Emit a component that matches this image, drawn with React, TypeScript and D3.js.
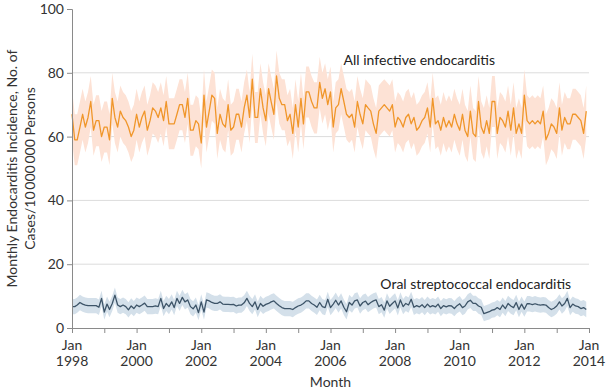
import React, { useEffect, useRef } from 'react'
import * as d3 from 'd3'

// Monthly incidence per 10 000 000 persons, Jan 1998 – Dec 2013 (one row per year)
const allEndocarditis = [
  67, 59, 59, 63, 67, 63, 66, 71, 62, 65, 65, 60,
  63, 63, 59, 72, 66, 63, 68, 66, 65, 63, 60, 62,
  67, 63, 66, 68, 62, 65, 69, 68, 66, 69, 65, 71,
  64, 64, 64, 67, 70, 70, 66, 72, 62, 62, 65, 64,
  58, 73, 63, 68, 73, 72, 61, 67, 64, 63, 70, 62,
  63, 67, 67, 63, 69, 73, 66, 78, 66, 66, 75, 69,
  65, 75, 71, 67, 79, 72, 70, 70, 65, 67, 61, 70,
  63, 72, 64, 74, 74, 71, 69, 69, 77, 72, 75, 70,
  74, 63, 69, 70, 75, 71, 67, 66, 67, 63, 71, 67,
  64, 70, 69, 68, 64, 61, 68, 69, 70, 69, 68, 70,
  63, 66, 65, 63, 66, 67, 64, 66, 62, 63, 65, 66,
  69, 63, 72, 64, 65, 62, 66, 63, 65, 63, 67, 64,
  62, 67, 62, 60, 68, 61, 60, 71, 63, 61, 65, 61,
  71, 71, 61, 66, 65, 63, 68, 62, 69, 61, 64, 61,
  73, 65, 64, 65, 64, 65, 64, 68, 59, 61, 64, 63,
  61, 69, 62, 66, 64, 64, 67, 67, 66, 65, 61, 68,
]

const oralStrep = [
  6.7, 6.7, 7.2, 8.0, 7.5, 7.2, 7.0, 7.0, 7.0, 7.0, 6.5, 9.3,
  5.0, 7.5, 5.8, 7.7, 10.3, 7.2, 6.7, 7.2, 6.7, 5.7, 6.9, 6.1,
  7.2, 6.7, 7.2, 7.8, 6.7, 6.7, 6.7, 6.9, 6.7, 9.3, 6.1, 7.7,
  6.7, 8.2, 6.4, 9.3, 7.7, 9.6, 8.2, 8.8, 6.7, 6.0, 7.2, 4.8,
  8.2, 5.0, 8.8, 8.5, 8.0, 7.7, 7.7, 8.2, 7.5, 7.4, 7.4, 7.3,
  7.4, 6.9, 7.2, 7.2, 7.9, 9.3, 7.7, 6.7, 8.2, 5.8, 7.7, 6.8,
  7.4, 7.7, 8.2, 8.5, 7.7, 7.0, 6.4, 6.1, 6.1, 6.1, 5.8, 6.4,
  6.9, 7.2, 7.7, 8.5, 8.5, 7.7, 7.2, 6.5, 8.0, 6.7, 6.4, 9.0,
  6.4, 7.5, 8.7, 7.2, 8.5, 6.5, 5.1, 8.0, 7.2, 8.5, 8.8, 6.9,
  8.0, 8.4, 7.3, 8.0, 8.5, 8.8, 6.7, 7.3, 5.6, 8.5, 6.8, 7.7,
  8.5, 6.3, 8.8, 6.7, 7.7, 7.2, 9.0, 6.5, 7.0, 6.6, 7.3, 6.4,
  7.5, 6.6, 7.0, 6.6, 7.5, 6.1, 7.0, 6.6, 7.0, 6.9, 6.1, 7.0,
  7.6, 6.4, 6.9, 8.2, 8.7, 7.7, 7.7, 6.9, 6.5, 4.5, 4.8, 5.1,
  5.6, 5.8, 6.4, 5.8, 7.2, 6.1, 7.7, 6.9, 6.4, 8.0, 5.8, 7.5,
  5.9, 7.6, 7.6, 7.3, 7.6, 7.3, 7.2, 7.3, 7.2, 6.4, 5.8, 6.2,
  6.9, 8.2, 6.9, 7.7, 9.3, 6.4, 7.5, 6.9, 6.7, 6.1, 6.4, 5.8,
]

// 95% CI half-widths
const allCiHalfWidth = 8
const oralCiHalfWidth = 2.4

const yTicks = [0, 20, 40, 60, 80, 100]
const gridValues = [20, 40, 60, 80]
const labelYears = [1998, 2000, 2002, 2004, 2006, 2008, 2010, 2012, 2014]

const FONT = 'Lato, "Open Sans", sans-serif'

export default function App() {
  const svgRef = useRef<SVGSVGElement>(null)

  useEffect(() => {
    if (!svgRef.current) return
    const width = 606
    const height = 392
    const margin = { top: 9, right: 17, bottom: 64, left: 72 }
    const innerWidth = width - margin.left - margin.right
    const innerHeight = height - margin.top - margin.bottom

    const root = d3.select(svgRef.current)
    root.selectAll('*').remove()
    root.attr('width', width).attr('height', height)

    const svg = root.append('g').attr('transform', `translate(${margin.left},${margin.top})`)

    const x = d3
      .scaleTime()
      .domain([new Date(1998, 0, 1), new Date(2014, 0, 1)])
      .range([0, innerWidth])
    const y = d3.scaleLinear().domain([0, 100]).range([innerHeight, 0])

    const month = (i: number) => new Date(1998, i, 1)

    // Gridlines
    svg
      .selectAll('.grid')
      .data(gridValues)
      .join('line')
      .attr('x1', 0)
      .attr('x2', innerWidth)
      .attr('y1', (d) => y(d))
      .attr('y2', (d) => y(d))
      .attr('stroke', '#dcdcdc')
      .attr('stroke-width', 1)

    const drawSeries = (values: number[], hw: number, bandColor: string, lineColor: string) => {
      const area = d3
        .area<number>()
        .x((_, i) => x(month(i)))
        .y0((d) => y(d - hw))
        .y1((d) => y(d + hw))
      svg.append('path').datum(values).attr('d', area).attr('fill', bandColor)

      const line = d3
        .line<number>()
        .x((_, i) => x(month(i)))
        .y((d) => y(d))
      svg
        .append('path')
        .datum(values)
        .attr('d', line)
        .attr('fill', 'none')
        .attr('stroke', lineColor)
        .attr('stroke-width', 1.3)
        .attr('stroke-linejoin', 'round')
    }

    drawSeries(allEndocarditis, allCiHalfWidth, '#fde2d5', '#f0962a')
    drawSeries(oralStrep, oralCiHalfWidth, '#d4e0ea', '#3d5468')

    // Series labels
    svg
      .append('text')
      .attr('x', x(new Date(2008, 9, 1)))
      .attr('y', y(82.3))
      .attr('text-anchor', 'middle')
      .style('font-family', FONT)
      .style('font-size', '14px')
      .attr('fill', '#222')
      .text('All infective endocarditis')

    svg
      .append('text')
      .attr('x', x(new Date(2010, 6, 1)))
      .attr('y', y(12.2))
      .attr('text-anchor', 'middle')
      .style('font-family', FONT)
      .style('font-size', '14px')
      .attr('fill', '#222')
      .text('Oral streptococcal endocarditis')

    // Y axis
    const yAxis = svg.append('g').call(d3.axisLeft(y).tickValues(yTicks).tickSize(5).tickPadding(3))
    yAxis.select('.domain').attr('stroke', '#8a8a8a')
    yAxis.selectAll('line').attr('stroke', '#8a8a8a')
    yAxis
      .selectAll('text')
      .style('font-family', FONT)
      .style('font-size', '14px')
      .attr('fill', '#333')

    // X axis
    const xAxis = svg
      .append('g')
      .attr('transform', `translate(0,${innerHeight})`)
      .call(
        d3
          .axisBottom(x)
          .ticks(d3.timeYear.every(1))
          .tickSize(5)
          .tickSizeOuter(0)
          .tickFormat(() => '')
      )
    xAxis.select('.domain').attr('stroke', '#8a8a8a')
    xAxis.selectAll('line').attr('stroke', '#8a8a8a')

    const xl = svg
      .append('g')
      .selectAll('text')
      .data(labelYears)
      .join('text')
      .attr('x', (d) => x(new Date(d, 0, 1)))
      .attr('text-anchor', 'middle')
      .style('font-family', FONT)
      .style('font-size', '14px')
      .attr('fill', '#333')
    xl.append('tspan').attr('x', (d) => x(new Date(d, 0, 1))).attr('y', innerHeight + 22).text('Jan')
    xl.append('tspan').attr('x', (d) => x(new Date(d, 0, 1))).attr('y', innerHeight + 38).text((d) => String(d))

    // Axis titles
    svg
      .append('text')
      .attr('x', innerWidth / 2)
      .attr('y', innerHeight + 59)
      .attr('text-anchor', 'middle')
      .style('font-family', FONT)
      .style('font-size', '14px')
      .attr('fill', '#333')
      .text('Month')

    const yTitle = svg
      .append('text')
      .attr('transform', `translate(${-margin.left},${y(50)}) rotate(-90)`)
      .attr('text-anchor', 'middle')
      .style('font-family', FONT)
      .style('font-size', '14px')
      .attr('fill', '#333')
    yTitle.append('tspan').attr('x', 0).attr('y', 17).text('Monthly Endocarditis Incidence, No. of')
    yTitle.append('tspan').attr('x', 0).attr('y', 35).text('Cases/10\u2009000\u2009000 Persons')
  }, [])

  return (
    <div style={{ position: 'absolute', left: 0, top: 0 }}>
      <svg ref={svgRef} style={{ display: 'block' }}></svg>
    </div>
  )
}
